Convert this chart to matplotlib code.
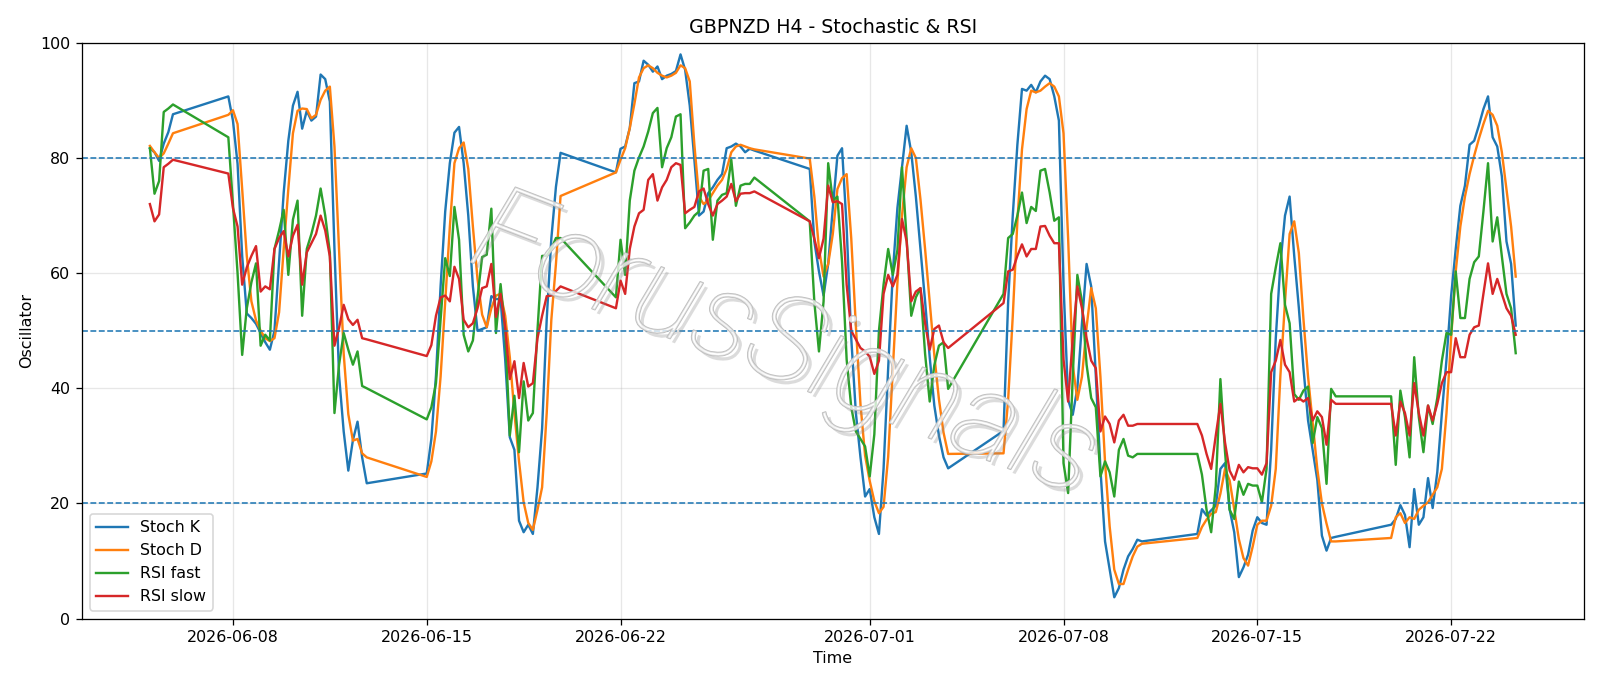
import matplotlib
matplotlib.use('Agg')
import matplotlib.pyplot as plt
import matplotlib.patheffects as pe
import pandas as pd

# H4 bars, one row per trading block (gaps = weekends)
seg_start = ['2026-06-05 00:00', '2026-06-07 20:00', '2026-06-15 00:00', '2026-06-21 20:00',
             '2026-06-28 20:00', '2026-07-05 20:00', '2026-07-12 20:00', '2026-07-19 20:00']
seg_len = [6, 31, 30, 31, 31, 31, 31, 28]

stoch_k = [
    81.7, 81.0, 79.5, 82.5, 84.5, 87.6,
    90.7,
    86.5, 79.0, 63.0, 53.0, 52.2, 51.2, 49.6, 48.0, 46.7, 50.0, 62.0, 74.0,
    83.0, 89.1, 91.5, 85.1, 88.2, 86.5, 87.2, 94.5, 93.7, 89.8, 64.2, 42.2,
    32.5, 25.7, 31.0, 34.2, 28.0, 23.5,
    25.2, 31.2, 42.2, 57.7, 70.7, 79.1, 84.4, 85.4, 79.1, 70.0, 57.7, 50.0,
    50.3, 50.6, 56.0, 55.5, 55.5, 45.0, 31.5, 29.3, 17.0, 15.0, 16.3, 14.7,
    22.8, 33.0, 52.0, 66.0, 75.0, 80.9,
    77.5,
    81.6, 82.0, 85.2, 93.0, 93.3, 96.9, 96.2, 95.0, 95.9, 93.7, 94.3, 94.6,
    95.1, 98.0, 95.3, 89.1, 79.7, 70.0, 70.7, 73.9, 74.9, 76.2, 77.2, 81.7,
    82.0, 82.5, 82.0, 81.0, 81.6, 81.3,
    78.1,
    65.5, 60.3, 56.1, 61.6, 71.3, 80.4, 81.7, 68.0, 48.7, 35.7, 28.0, 21.2,
    22.5, 17.6, 14.7, 26.0, 43.5, 60.0, 71.3, 78.4, 85.6, 81.0, 73.3, 64.2,
    55.1, 45.4, 37.0, 31.8, 28.0, 26.1,
    32.6,
    55.0, 70.0, 82.3, 92.0, 91.7, 92.7, 91.4, 93.3, 94.3, 93.7, 90.7, 86.5,
    58.0, 38.0, 35.4, 40.0, 51.3, 61.6, 57.7, 42.2, 26.0, 13.4, 8.5, 3.7,
    5.3, 8.5, 10.8, 12.1, 13.7, 13.4,
    14.7,
    19.0, 17.9, 18.8, 19.6, 26.0, 27.0, 19.0, 15.0, 7.2, 8.9, 11.1, 15.3,
    17.6, 16.6, 16.3, 29.3, 48.7, 61.6, 70.0, 73.3, 63.0, 54.0, 43.5, 34.4,
    29.3, 24.1, 14.4, 11.8, 14.0, 14.2,
    16.3,
    17.3, 19.7, 18.0, 12.4, 22.5, 16.3, 17.6, 24.4, 19.2, 25.4, 35.7, 45.0,
    56.0, 64.2, 71.7, 75.2, 82.3, 83.0, 85.6, 88.5, 90.7, 83.6, 82.0, 76.8,
    65.5, 61.6, 50.9,
]

stoch_d = [
    82.1, 81.0, 80.0, 80.8, 82.5, 84.3,
    87.5,
    88.3, 85.9, 74.6, 63.0, 55.1, 51.8, 50.0, 48.7, 48.2, 48.7, 53.2, 64.2,
    74.6, 84.3, 88.2, 88.6, 88.5, 86.9, 87.5, 90.1, 91.7, 92.4, 82.0, 64.0,
    46.0, 35.5, 30.9, 31.2, 28.7, 28.0,
    24.6, 27.3, 32.5, 42.0, 55.0, 68.0, 79.1, 81.7, 82.7, 78.1, 68.1, 59.0,
    52.8, 50.6, 53.9, 56.1, 56.4, 52.6, 45.4, 35.7, 27.3, 20.2, 16.6, 15.4,
    18.9, 22.8, 35.7, 51.9, 61.6, 73.4,
    77.5,
    79.7, 81.7, 85.2, 89.4, 94.0, 95.6, 96.1, 95.6, 94.8, 94.3, 94.0, 94.3,
    94.8, 96.1, 95.6, 93.3, 82.3, 73.3, 72.0, 72.6, 73.9, 75.2, 76.2, 78.1,
    81.0, 82.0, 82.3, 82.0, 81.7, 81.5,
    79.9,
    73.3, 64.2, 59.4, 61.6, 66.8, 74.6, 76.5, 77.2, 66.0, 50.8, 37.2, 28.3,
    23.9, 20.4, 18.3, 19.4, 28.1, 43.2, 58.3, 70.0, 78.4, 81.7, 80.0, 72.8,
    64.2, 54.9, 45.8, 38.1, 32.3, 28.6,
    28.7,
    38.0, 52.5, 69.0, 81.5, 88.5, 91.7, 91.4, 91.7, 92.4, 93.0, 92.4, 90.7,
    84.3, 66.0, 44.0, 38.0, 42.0, 50.6, 57.4, 53.9, 42.0, 27.2, 16.0, 8.5,
    6.0, 6.0, 8.5, 10.8, 12.5, 13.0,
    14.0,
    15.9, 17.2, 18.2, 18.5, 21.7, 26.0, 24.0, 19.0, 13.8, 10.5, 9.2, 12.5,
    16.3, 17.0, 17.0, 19.6, 26.0, 42.2, 55.0, 66.8, 69.0, 63.5, 52.0, 42.0,
    34.0, 26.0, 20.0, 16.5, 13.4, 13.4,
    14.0,
    17.6, 18.3, 16.6, 17.6, 17.3, 18.9, 19.6, 20.2, 21.5, 22.8, 26.0, 35.7,
    48.7, 60.3, 68.1, 73.3, 77.2, 80.4, 83.3, 85.9, 88.2, 87.5, 85.6, 81.0,
    74.6, 68.1, 59.4,
]

rsi_fast = [
    81.7, 73.8, 76.0, 88.0, 88.6, 89.3,
    83.6,
    72.0, 60.0, 45.8, 53.9, 58.4, 61.7, 47.4, 49.3, 48.3, 64.2, 67.4, 71.0,
    59.7, 69.3, 72.6, 52.6, 64.2, 66.8, 70.0, 74.7, 70.0, 63.6, 35.7, 44.1,
    49.6, 46.7, 44.1, 46.4, 40.4, 40.0,
    34.6, 36.7, 40.9, 51.9, 62.6, 59.5, 71.5, 65.8, 49.3, 46.4, 48.3, 55.8,
    62.8, 63.2, 71.2, 49.6, 58.1, 50.0, 31.8, 38.7, 28.9, 41.2, 34.4, 35.7,
    50.1, 63.0, 63.0, 64.2, 66.1, 66.1,
    55.8,
    65.8, 59.7, 72.6, 77.8, 80.1, 82.0, 84.6, 87.8, 88.7, 78.4, 81.7, 83.6,
    87.2, 87.6, 67.8, 68.8, 70.0, 70.7, 77.8, 78.1, 65.8, 72.6, 73.6, 73.9,
    79.7, 71.7, 75.2, 75.5, 75.5, 76.6,
    69.0,
    55.0, 46.4, 55.1, 79.1, 72.6, 73.3, 62.0, 45.0, 36.7, 32.5, 31.2, 29.9,
    24.7, 32.0, 50.0, 58.0, 64.2, 59.7, 64.0, 78.4, 66.0, 52.6, 55.8, 57.4,
    46.0, 37.7, 44.0, 47.4, 48.0, 39.9,
    56.4,
    66.1, 66.8, 70.0, 74.0, 68.7, 71.5, 70.8, 77.8, 78.1, 74.0, 69.1, 69.7,
    27.0, 21.8, 42.0, 59.7, 55.1, 44.1, 38.3, 36.7, 24.7, 27.3, 25.4, 21.2,
    29.3, 31.2, 28.3, 28.0, 28.6, 28.6,
    28.6,
    25.0, 18.9, 15.0, 23.0, 41.6, 29.0, 18.9, 17.3, 23.8, 21.5, 23.4, 23.1,
    23.1, 20.2, 26.0, 56.4, 61.0, 65.2, 54.5, 51.3, 39.0, 38.0, 39.6, 40.3,
    30.5, 35.0, 33.1, 23.4, 39.9, 38.6,
    38.6,
    26.7, 39.6, 35.0, 28.0, 45.4, 35.0, 28.9, 37.0, 33.8, 38.3, 44.8, 49.6,
    49.3, 60.3, 52.2, 52.2, 59.0, 61.9, 62.9, 70.7, 79.1, 65.5, 69.7, 62.9,
    56.4, 53.9, 46.1,
]

rsi_slow = [
    72.0, 69.0, 70.2, 78.4, 79.0, 79.7,
    77.3,
    71.3, 68.1, 58.0, 61.0, 63.0, 64.7, 56.8, 57.7, 57.2, 64.2, 66.1, 67.3,
    62.9, 66.5, 68.4, 58.0, 63.6, 65.2, 66.8, 70.0, 67.4, 62.9, 47.4, 50.5,
    54.5, 52.0, 51.0, 51.9, 48.7, 48.5,
    45.6, 47.5, 52.6, 55.8, 56.1, 55.1, 61.1, 59.0, 51.9, 50.6, 51.3, 53.9,
    57.4, 57.7, 61.6, 52.4, 56.4, 50.6, 41.6, 44.7, 38.3, 44.4, 40.3, 40.9,
    48.7, 52.6, 56.0, 56.1, 56.9, 57.7,
    53.9,
    58.7, 56.4, 64.2, 68.1, 70.4, 71.0, 76.2, 77.2, 72.6, 74.9, 76.2, 78.4,
    79.1, 78.8, 70.4, 71.0, 71.5, 74.2, 74.7, 72.0, 70.0, 72.0, 72.6, 73.3,
    75.5, 72.5, 73.8, 73.9, 73.9, 74.2,
    69.0,
    66.0, 62.6, 66.0, 75.2, 72.3, 72.5, 72.0, 58.0, 50.0, 48.5, 47.0, 46.4,
    45.5, 42.5, 44.8, 56.4, 59.7, 57.7, 59.7, 69.4, 65.5, 55.1, 56.8, 57.4,
    51.3, 46.7, 50.3, 50.9, 48.0, 47.0,
    54.8,
    60.3, 60.6, 63.0, 65.0, 62.9, 64.2, 64.2, 68.1, 68.2, 66.5, 65.2, 65.2,
    45.0, 37.7, 48.7, 57.7, 53.9, 48.7, 44.8, 43.5, 32.5, 35.1, 33.8, 30.6,
    34.4, 35.4, 33.5, 33.5, 33.8, 33.8,
    33.8,
    31.8, 28.6, 26.0, 31.8, 37.3, 30.6, 25.7, 24.1, 26.7, 25.4, 26.3, 26.1,
    26.1, 25.0, 27.0, 42.8, 44.8, 48.4, 44.1, 42.8, 37.7, 38.3, 37.7, 38.3,
    34.4, 36.0, 35.0, 30.2, 38.0, 37.3,
    37.3,
    31.8, 37.7, 35.7, 31.8, 40.9, 35.7, 31.8, 37.0, 34.4, 37.3, 40.9, 42.8,
    42.8, 48.7, 45.4, 45.4, 49.3, 50.6, 50.9, 56.4, 61.7, 56.4, 59.0, 56.4,
    53.9, 52.6, 49.3,
]

levels = [80, 50, 20]

times = []
for start, n in zip(seg_start, seg_len):
    times.extend(pd.date_range(start, periods=n, freq='4h'))

fig, ax = plt.subplots(figsize=(14, 6.0025))
fig.subplots_adjust(left=0.051, right=0.99, top=0.9375, bottom=0.0983)

ax.plot(times, stoch_k, label='Stoch K')
ax.plot(times, stoch_d, label='Stoch D')
ax.plot(times, rsi_fast, label='RSI fast')
ax.plot(times, rsi_slow, label='RSI slow')

for lv in levels:
    ax.axhline(lv, linestyle='--', linewidth=1, color='#1f77b4')

ax.set_ylim(0, 100)
ax.set_title('GBPNZD H4 - Stochastic & RSI')
ax.set_xlabel('Time')
ax.set_ylabel('Oscillator')
ax.grid(True, alpha=0.3)
ax.legend(loc='lower left')

# watermark: outlined letters with a soft shadow
ax.text(0.468, 0.47, 'ForusSignals', transform=ax.transAxes, fontsize=76,
        rotation=-21, style='italic', family=['Roboto', 'Lato', 'DejaVu Sans'],
        fontweight='light', ha='center', va='center',
        color=(1, 1, 1, 0.5), zorder=5,
        path_effects=[pe.SimplePatchShadow(offset=(3, -3), shadow_rgbFace='#8a8a8a', alpha=0.3),
                      pe.Stroke(linewidth=1.0, foreground='#bcbcbc'),
                      pe.Normal()])

fig.savefig('out.png', dpi=114.2858)
